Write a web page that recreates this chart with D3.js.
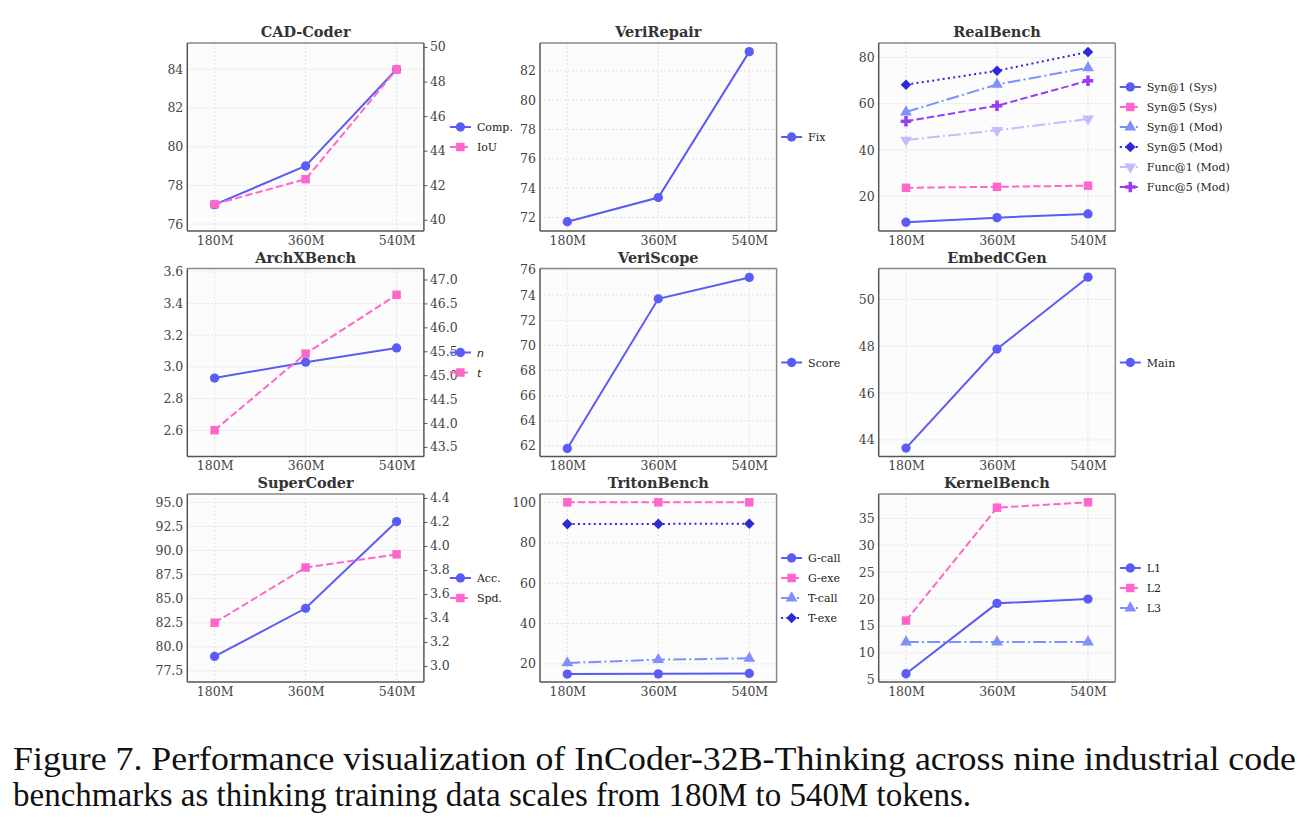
<!DOCTYPE html>
<html>
<head>
<meta charset="utf-8">
<script src="https://cdn.jsdelivr.net/npm/d3@7"></script>
<style>
  body { margin: 0; background: #fff; }
  svg { display: block; }
</style>
</head>
<body>
<div id="fig"></div>
<script>
// categories
const sizes = ["180M", "360M", "540M"]

// series values
const cadComp = [77, 79, 84]
const cadIoU = [40.9, 42.35, 48.7]
const veriRepairFix = [71.7, 73.35, 83.3]
const realSyn1Sys = [8.8, 10.8, 12.4]
const realSyn5Sys = [23.7, 24.1, 24.6]
const realSyn1Mod = [56.4, 68.3, 75.5]
const realSyn5Mod = [68.2, 74.2, 82.3]
const realFunc1Mod = [44.3, 48.5, 53.4]
const realFunc5Mod = [52.4, 59.1, 69.9]
const archN = [2.93, 3.03, 3.12]
const archT = [43.85, 45.45, 46.68]
const veriScopeScore = [61.8, 73.7, 75.4]
const embedMain = [43.65, 47.88, 50.95]
const superAcc = [79, 84, 93]
const superSpd = [3.36, 3.82, 3.93]
const tritonGCall = [15.0, 15.1, 15.3]
const tritonGExe = [100, 100, 100]
const tritonTCall = [20.5, 22.1, 22.8]
const tritonTExe = [89.2, 89.3, 89.4]
const kernelL1 = [6.1, 19.2, 20.0]
const kernelL2 = [16, 37, 38]
const kernelL3 = [12, 12, 12]

// tick labels
const cadTicks = [76, 78, 80, 82, 84]
const cadTicksR = [40, 42, 44, 46, 48, 50]
const veriRepairTicks = [72, 74, 76, 78, 80, 82]
const realTicks = [20, 40, 60, 80]
const archTicks = [2.6, 2.8, 3.0, 3.2, 3.4, 3.6]
const archTicksR = [43.5, 44.0, 44.5, 45.0, 45.5, 46.0, 46.5, 47.0]
const veriScopeTicks = [62, 64, 66, 68, 70, 72, 74, 76]
const embedTicks = [44, 46, 48, 50]
const superTicks = [77.5, 80.0, 82.5, 85.0, 87.5, 90.0, 92.5, 95.0]
const superTicksR = [3.0, 3.2, 3.4, 3.6, 3.8, 4.0, 4.2, 4.4]
const tritonTicks = [20, 40, 60, 80, 100]
const kernelTicks = [5, 10, 15, 20, 25, 30, 35]

const caption1 = "Figure 7. Performance visualization of InCoder-32B-Thinking across nine industrial code"
const caption2 = "benchmarks as thinking training data scales from 180M to 540M tokens."

// line styles
const styles = {
    blue:     { color: "#5b5bf6", dash: null, marker: "circle" },
    pink:     { color: "#ff66cc", dash: "7.4,3.2", marker: "square" },
    sky:      { color: "#7f90fb", dash: "12.8,3.2,2,3.2", marker: "triangle" },
    navy:     { color: "#2a2ad8", dash: "2,3.3", marker: "diamond" },
    lavender: { color: "#c4bcff", dash: "12.8,3.2,2,3.2", marker: "triangleDown" },
    purple:   { color: "#9a3cf7", dash: "7.4,3.2", marker: "plus" }
}

const panels = [
    { title: "CAD-Coder", col: 0, row: 0, yl: [75.64, 85.36], tl: cadTicks, fl: "d",
      yr: [39.35, 50.23], tr: cadTicksR, fr: "d",
      series: [{ name: "Comp.", v: cadComp, s: "blue" }, { name: "IoU", v: cadIoU, s: "pink", right: true }] },
    { title: "VeriRepair", col: 1, row: 0, yl: [71.07, 83.89], tl: veriRepairTicks, fl: "d",
      series: [{ name: "Fix", v: veriRepairFix, s: "blue" }] },
    { title: "RealBench", col: 2, row: 0, yl: [5.03, 86.2], tl: realTicks, fl: "d",
      series: [
        { name: "Syn@1 (Sys)", v: realSyn1Sys, s: "blue" },
        { name: "Syn@5 (Sys)", v: realSyn5Sys, s: "pink" },
        { name: "Syn@1 (Mod)", v: realSyn1Mod, s: "sky" },
        { name: "Syn@5 (Mod)", v: realSyn5Mod, s: "navy" },
        { name: "Func@1 (Mod)", v: realFunc1Mod, s: "lavender" },
        { name: "Func@5 (Mod)", v: realFunc5Mod, s: "purple" }] },
    { title: "ArchXBench", col: 0, row: 1, yl: [2.435, 3.621], tl: archTicks, fl: ".1f",
      yr: [43.30, 47.23], tr: archTicksR, fr: ".1f",
      series: [{ name: "n", v: archN, s: "blue", italic: true }, { name: "t", v: archT, s: "pink", right: true, italic: true }] },
    { title: "VeriScope", col: 1, row: 1, yl: [61.16, 76.11], tl: veriScopeTicks, fl: "d",
      series: [{ name: "Score", v: veriScopeScore, s: "blue" }] },
    { title: "EmbedCGen", col: 2, row: 1, yl: [43.29, 51.32], tl: embedTicks, fl: "d",
      series: [{ name: "Main", v: embedMain, s: "blue" }] },
    { title: "SuperCoder", col: 0, row: 2, yl: [76.35, 95.86], tl: superTicks, fl: ".1f",
      yr: [2.866, 4.433], tr: superTicksR, fr: ".1f",
      series: [{ name: "Acc.", v: superAcc, s: "blue" }, { name: "Spd.", v: superSpd, s: "pink", right: true }] },
    { title: "TritonBench", col: 1, row: 2, yl: [11.06, 104.1], tl: tritonTicks, fl: "d",
      series: [
        { name: "G-call", v: tritonGCall, s: "blue" },
        { name: "G-exe", v: tritonGExe, s: "pink" },
        { name: "T-call", v: tritonTCall, s: "sky" },
        { name: "T-exe", v: tritonTExe, s: "navy" }] },
    { title: "KernelBench", col: 2, row: 2, yl: [4.57, 39.54], tl: kernelTicks, fl: "d",
      series: [
        { name: "L1", v: kernelL1, s: "blue" },
        { name: "L2", v: kernelL2, s: "pink" },
        { name: "L3", v: kernelL3, s: "sky" }] }
]

// layout
const W = 1313, H = 828
const colX = [187.3, 540, 878.7]
const rowY = [43, 268.5, 494]
const pw = 236.6, ph = 188
const serif = "'DejaVu Serif', serif"

const svg = d3.select("#fig").append("svg")
    .attr("width", W).attr("height", H)
    .attr("viewBox", `0 0 ${W} ${H}`)

svg.append("rect").attr("width", W).attr("height", H).attr("fill", "#fff")

function markerPath(kind) {
    const sym = {
        circle: [d3.symbolCircle, 68],
        square: [d3.symbolSquare, 72],
        triangle: [d3.symbolTriangle, 60],
        triangleDown: [d3.symbolTriangle, 60],
        diamond: [d3.symbolSquare, 56],
        plus: [d3.symbolCross, 62]
    }[kind]
    return d3.symbol(sym[0], sym[1])()
}
function markerRotate(kind) {
    if (kind === "diamond") return 45
    if (kind === "triangleDown") return 180
    return 0
}

function drawMarker(g, kind, color, x, y) {
    g.append("path")
        .attr("d", markerPath(kind))
        .attr("transform", `translate(${x},${y}) rotate(${markerRotate(kind)})`)
        .attr("fill", color)
}

function drawPanel(p) {
    const x0 = colX[p.col], y0 = rowY[p.row]
    const g = svg.append("g").attr("transform", `translate(${x0},${y0})`)

    // category index -> x, with matplotlib-like side margins
    const x = d3.scaleLinear().domain([-0.3, 2.3]).range([0, pw])
    const yl = d3.scaleLinear().domain(p.yl).range([ph, 0])
    const yr = p.yr ? d3.scaleLinear().domain(p.yr).range([ph, 0]) : null

    g.append("rect").attr("width", pw).attr("height", ph).attr("fill", "#fcfcfc")

    // grid
    g.append("g").selectAll("line").data(p.tl).join("line")
        .attr("x1", 0).attr("x2", pw)
        .attr("y1", d => yl(d)).attr("y2", d => yl(d))
        .attr("stroke", "#d9d9d9").attr("stroke-width", 0.8).attr("stroke-dasharray", "2,2")
    g.append("g").selectAll("line").data(sizes).join("line")
        .attr("x1", (d, i) => x(i)).attr("x2", (d, i) => x(i))
        .attr("y1", 0).attr("y2", ph)
        .attr("stroke", "#d9d9d9").attr("stroke-width", 0.8).attr("stroke-dasharray", "2,2")

    // axes
    const xAxis = d3.axisBottom(x).tickValues([0, 1, 2]).tickFormat(i => sizes[i]).tickSize(0).tickPadding(5)
    const gx = g.append("g").attr("transform", `translate(0,${ph})`).call(xAxis)
    const yAxis = d3.axisLeft(yl).tickValues(p.tl).tickFormat(d3.format(p.fl)).tickSize(0).tickPadding(4)
    const gy = g.append("g").call(yAxis)
    const axes = [gx, gy]
    if (yr) {
        const yrAxis = d3.axisRight(yr).tickValues(p.tr).tickFormat(d3.format(p.fr)).tickSize(3.5).tickPadding(2.5)
        axes.push(g.append("g").attr("transform", `translate(${pw},0)`).call(yrAxis))
    }
    axes.forEach(a => {
        a.select(".domain").remove()
        a.selectAll("text").attr("font-family", serif).attr("font-size", 12.5).attr("fill", "#444")
        a.selectAll("line").attr("stroke", "#555")
    })

    // frame
    g.append("line").attr("x1", 0).attr("x2", pw).attr("y1", 0).attr("y2", 0).attr("stroke", "#888").attr("stroke-width", 1.5)
    g.append("line").attr("x1", pw).attr("x2", pw).attr("y1", 0).attr("y2", ph).attr("stroke", yr ? "#555" : "#888").attr("stroke-width", 1.5)
    g.append("line").attr("x1", 0).attr("x2", 0).attr("y1", 0).attr("y2", ph).attr("stroke", "#555").attr("stroke-width", 1.5)
    g.append("line").attr("x1", 0).attr("x2", pw).attr("y1", ph).attr("y2", ph).attr("stroke", "#555").attr("stroke-width", 1.5)

    // series
    p.series.forEach(s => {
        const st = styles[s.s]
        const ys = s.right ? yr : yl
        const line = d3.line().x((d, i) => x(i)).y(d => ys(d))
        g.append("path").datum(s.v)
            .attr("d", line)
            .attr("fill", "none")
            .attr("stroke", st.color)
            .attr("stroke-width", 2)
            .attr("stroke-dasharray", st.dash)
        s.v.forEach((d, i) => drawMarker(g, st.marker, st.color, x(i), ys(d)))
    })

    // title
    g.append("text").attr("x", pw / 2).attr("y", -6)
        .attr("text-anchor", "middle")
        .attr("font-family", serif).attr("font-weight", "bold").attr("font-size", 14.5)
        .attr("fill", "#333").text(p.title)

    // legend, outside on the right, centred on the plot
    const lx = pw + (yr ? 26 : 4.5)
    const n = p.series.length
    const ly0 = ph / 2 - (n - 1) * 20 / 2
    p.series.forEach((s, i) => {
        const st = styles[s.s]
        const ly = ly0 + i * 20
        g.append("line").attr("x1", lx).attr("x2", lx + 21).attr("y1", ly).attr("y2", ly)
            .attr("stroke", st.color).attr("stroke-width", 2).attr("stroke-dasharray", st.dash)
        drawMarker(g, st.marker, st.color, lx + 10.5, ly)
        g.append("text").attr("x", lx + 27).attr("y", ly + 4)
            .attr("font-family", s.italic ? "'DejaVu Sans', sans-serif" : serif)
            .attr("font-style", s.italic ? "italic" : null)
            .attr("font-size", 11).attr("fill", "#222").text(s.name)
    })
}

panels.forEach(drawPanel)

// caption
svg.append("text").attr("x", 13).attr("y", 770)
    .attr("font-family", "'Liberation Serif', serif").attr("font-size", 34).attr("fill", "#111")
    .attr("textLength", 1283).attr("lengthAdjust", "spacingAndGlyphs")
    .text(caption1)
svg.append("text").attr("x", 13).attr("y", 806)
    .attr("font-family", "'Liberation Serif', serif").attr("font-size", 34).attr("fill", "#111")
    .attr("textLength", 958).attr("lengthAdjust", "spacingAndGlyphs")
    .text(caption2)
</script>
</body>
</html>
